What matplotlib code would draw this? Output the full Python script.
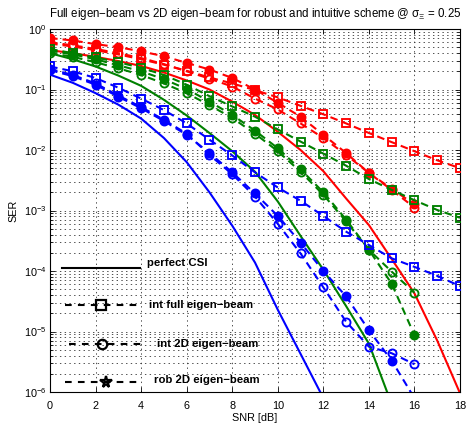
import matplotlib
matplotlib.use("Agg")
import matplotlib.pyplot as plt
from matplotlib.ticker import LogLocator, NullFormatter, MultipleLocator

# ---------------- data ----------------
snr = list(range(0, 19))

# perfect CSI (solid)
blue_perfect = [0.176, 0.129, 0.0871, 0.0562, 0.0331, 0.0158, 6.31e-3, 2.0e-3,
                5.62e-4, 1.38e-4, 2.29e-5, 4.27e-6, 7.94e-7]
green_perfect = [0.398, 0.316, 0.240, 0.170, 0.115, 0.0676, 0.0372, 0.0191,
                 9.55e-3, 4.37e-3, 1.41e-3, 3.80e-4, 1.05e-4, 2.63e-5, 6.31e-6, 6.31e-7]
red_perfect = [0.447, 0.398, 0.347, 0.295, 0.245, 0.191, 0.141, 0.100, 0.0631,
               0.0380, 0.0200, 0.0100, 4.47e-3, 1.58e-3, 5.75e-4, 1.58e-4,
               4.27e-5, 7.08e-6, 9.55e-7]

# int full eigen-beam (squares)
red_full = [0.575, 0.513, 0.447, 0.380, 0.316, 0.257, 0.204, 0.158, 0.126,
            0.0977, 0.0741, 0.0537, 0.0389, 0.0275, 0.0191, 0.0135, 9.55e-3,
            6.76e-3, 5.01e-3]
green_full = [0.468, 0.398, 0.339, 0.282, 0.229, 0.174, 0.120, 0.0776, 0.0525,
              0.0355, 0.0219, 0.0138, 8.71e-3, 5.50e-3, 3.31e-3, 2.19e-3,
              1.48e-3, 1.02e-3, 7.59e-4]
blue_full = [0.240, 0.200, 0.155, 0.107, 0.0708, 0.0457, 0.0275, 0.0148,
             8.13e-3, 4.27e-3, 2.40e-3, 1.45e-3, 8.13e-4, 4.47e-4, 2.69e-4,
             1.62e-4, 1.17e-4, 8.32e-5, 5.62e-5]

# int 2D eigen-beam (circles)
red_int2d = [0.603, 0.537, 0.468, 0.398, 0.331, 0.263, 0.200, 0.151, 0.112,
             0.0708, 0.0468, 0.0275, 0.0158, 8.32e-3, 4.17e-3, 2.19e-3, 1.12e-3]
green_int2d = [0.398, 0.347, 0.282, 0.224, 0.174, 0.126, 0.0871, 0.0550,
               0.0339, 0.0186, 9.55e-3, 4.37e-3, 1.82e-3, 6.61e-4, 2.24e-4,
               9.77e-5, 4.37e-5]
blue_int2d = [0.219, 0.174, 0.126, 0.0794, 0.0513, 0.0316, 0.0186, 8.32e-3,
              3.98e-3, 1.70e-3, 6.03e-4, 1.95e-4, 5.37e-5, 1.45e-5, 5.62e-6,
              4.37e-6, 2.88e-6]

# rob 2D eigen-beam (filled dots)
red_rob2d = [0.708, 0.646, 0.562, 0.501, 0.427, 0.355, 0.275, 0.214, 0.155,
             0.100, 0.0603, 0.0355, 0.0178, 8.91e-3, 4.17e-3, 2.29e-3, 1.26e-3]
green_rob2d = [0.437, 0.380, 0.316, 0.251, 0.200, 0.148, 0.102, 0.0631,
               0.0380, 0.0209, 0.0107, 4.79e-3, 2.0e-3, 7.08e-4, 2.24e-4,
               6.17e-5, 8.71e-6]
blue_rob2d = [0.209, 0.166, 0.120, 0.0759, 0.0490, 0.0302, 0.0178, 8.91e-3,
              4.27e-3, 1.91e-3, 8.13e-4, 2.95e-4, 1.0e-4, 3.80e-5, 1.05e-5,
              3.31e-6, 7.9e-7]

legend_labels = ["perfect CSI", "int full eigen\u2212beam",
                 "int 2D eigen\u2212beam", "rob 2D eigen\u2212beam"]
title = ("Full eigen\u2212beam vs 2D eigen\u2212beam for robust and intuitive "
         "scheme @ $\\mathrm{\u03c3}_{\\Xi}$ = 0.25")

# ---------------- style ----------------
plt.rcParams['font.family'] = ['Liberation Sans', 'DejaVu Sans']
plt.rcParams['mathtext.fontset'] = 'custom'
plt.rcParams['mathtext.rm'] = 'Liberation Sans'
plt.rcParams['mathtext.it'] = 'Liberation Sans:italic'
plt.rcParams['mathtext.bf'] = 'Liberation Sans:bold'
plt.rcParams['lines.scale_dashes'] = False

RED = (1, 0, 0)
GREEN = (0, 0.5, 0)
BLUE = (0, 0, 1)
LW = 1.5
DASH = (5.5, 3.6)
MS = 5.8
MEW = 1.35

fig = plt.figure(figsize=(4.68, 4.26), dpi=100)
ax = fig.add_axes([50 / 468, 1 - 392 / 426, 410 / 468, 363 / 426])

groups = [
    (RED, red_perfect, red_full, red_int2d, red_rob2d),
    (GREEN, green_perfect, green_full, green_int2d, green_rob2d),
    (BLUE, blue_perfect, blue_full, blue_int2d, blue_rob2d),
]
for col, perf, full, i2d, r2d in groups:
    ax.plot(snr[:len(perf)], perf, '-', color=col, lw=LW, zorder=3)
    ax.plot(snr[:len(full)], full, '--', dashes=DASH, color=col, lw=LW,
            marker='s', ms=MS, mfc='none', mec=col, mew=MEW, zorder=3)
    ax.plot(snr[:len(i2d)], i2d, '--', dashes=DASH, color=col, lw=LW,
            marker='o', ms=MS, mfc='none', mec=col, mew=MEW, zorder=3)
    ax.plot(snr[:len(r2d)], r2d, '--', dashes=DASH, color=col, lw=LW,
            marker='o', ms=MS, mfc=col, mec=col, mew=MEW, zorder=3)

ax.set_yscale('log')
ax.set_xlim(0, 18)
ax.set_ylim(1e-6, 1)
ax.xaxis.set_major_locator(MultipleLocator(2))
ax.yaxis.set_major_locator(LogLocator(base=10, numticks=10))
ax.yaxis.set_minor_locator(LogLocator(base=10, subs=range(2, 10), numticks=20))
ax.yaxis.set_minor_formatter(NullFormatter())

gridkw = dict(color='0.2', lw=0.6, linestyle=(0, (1, 2.4)))
ax.grid(True, which='major', axis='both', **gridkw)
ax.grid(True, which='minor', axis='y', **gridkw)
ax.set_axisbelow(True)

ax.tick_params(which='both', direction='in', top=True, right=True,
               labelsize=7.8, width=0.6, colors='k')
ax.tick_params(which='major', length=3.5)
ax.tick_params(axis='x', which='major', pad=6.5)
ax.tick_params(axis='y', which='major', pad=2.5)
ax.tick_params(which='minor', length=2)
for s in ax.spines.values():
    s.set_linewidth(0.8)

ax.set_xlabel('SNR [dB]', fontsize=7.8, labelpad=1.2)
ax.set_ylabel('SER', fontsize=7.8, labelpad=3.5)
ax.set_title(title, fontsize=8.3, pad=9)

# ---------------- hand-made legend ----------------
T = ax.transAxes
leg_y = [0.342, 0.240, 0.132, 0.028]
leg_x0 = [0.030, 0.037, 0.046, 0.037]
leg_x1 = [0.220, 0.220, 0.232, 0.220]
leg_mx = [None, 0.124, 0.127, 0.137]
leg_mk = [None, 's', 'o', '*']
leg_tx = [0.237, 0.241, 0.261, 0.254]
leg_ty = [0.355, 0.240, 0.132, 0.032]
for i, lab in enumerate(legend_labels):
    if i == 0:
        ax.plot([leg_x0[i], leg_x1[i]], [leg_y[i], leg_y[i]], '-', color='k',
                lw=LW, transform=T, clip_on=False, zorder=4)
    else:
        ax.plot([leg_x0[i], leg_x1[i]], [leg_y[i], leg_y[i]], '--',
                dashes=(4.8, 4.5), color='k', lw=LW, transform=T,
                clip_on=False, zorder=4)
        ms = 8.5 if leg_mk[i] == '*' else 6.8
        ax.plot([leg_mx[i]], [leg_y[i]], marker=leg_mk[i], ms=ms, mfc='none',
                mec='k', mew=1.6, color='k', transform=T, clip_on=False,
                zorder=5, linestyle='none')
    ax.text(leg_tx[i], leg_ty[i], lab, transform=T, fontsize=8.2,
            fontweight='bold', va='center', ha='left', zorder=5)

fig.savefig('out.png', dpi=100)
